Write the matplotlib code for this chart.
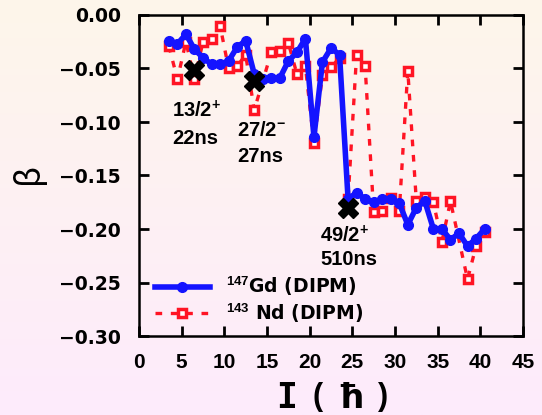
import numpy as np
import matplotlib
matplotlib.use("Agg")
import matplotlib.pyplot as plt

plt.rcParams["font.family"] = ["Liberation Sans", "DejaVu Sans"]
plt.rcParams["font.weight"] = "bold"
plt.rcParams["mathtext.fontset"] = "custom"
plt.rcParams["mathtext.rm"] = "Liberation Sans:bold"
plt.rcParams["mathtext.bf"] = "Liberation Sans:bold"
plt.rcParams["mathtext.default"] = "bf"

# 147Gd (DIPM) deformation along the yrast line
spin_gd = [3.5, 4.5, 5.5, 6.5, 7.5, 8.5, 9.5, 10.5, 11.5, 12.5,
           13.5, 14.5, 15.5, 16.5, 17.5, 18.5, 19.5, 20.5, 21.5, 22.5,
           23.5, 24.5, 25.5, 26.5, 27.5, 28.5, 29.5, 30.5, 31.5, 32.5,
           33.5, 34.5, 35.5, 36.5, 37.5, 38.5, 39.5, 40.5]
beta_gd = [-0.024, -0.027, -0.018, -0.032, -0.040, -0.046, -0.046, -0.043, -0.030, -0.024,
           -0.055, -0.060, -0.059, -0.059, -0.043, -0.035, -0.022, -0.114, -0.044, -0.031,
           -0.037, -0.172, -0.166, -0.172, -0.175, -0.172, -0.172, -0.176, -0.196, -0.180,
           -0.174, -0.200, -0.200, -0.210, -0.204, -0.216, -0.209, -0.200]

# 143Nd (DIPM)
spin_nd = [3.5, 4.5, 5.5, 6.5, 7.5, 8.5, 9.5, 10.5, 11.5, 12.5, 13.5,
           15.5, 16.5, 17.5, 18.5, 19.5, 20.5, 21.5, 22.5, 23.5, 24.5,
           25.5, 26.5, 27.5, 28.5, 29.5, 30.5, 31.5, 32.5, 33.5, 34.5,
           35.5, 36.5, 38.5, 39.5, 40.5]
beta_nd = [-0.029, -0.060, -0.025, -0.060, -0.025, -0.022, -0.010, -0.050, -0.048, -0.037, -0.089,
           -0.035, -0.034, -0.026, -0.055, -0.048, -0.120, -0.056, -0.049, -0.040, -0.172,
           -0.037, -0.048, -0.184, -0.183, -0.171, -0.183, -0.052, -0.174, -0.170, -0.175,
           -0.212, -0.174, -0.247, -0.216, -0.203]

# isomeric states in 147Gd
isomer_spin = [6.5, 13.5, 24.5]
isomer_beta = [-0.051, -0.062, -0.180]
isomer_state = ["13/2$^{+}$", "27/2$^{-}$", "49/2$^{+}$"]
isomer_life = ["22ns", "27ns", "510ns"]

W, H = 542, 415
fig = plt.figure(figsize=(W / 100, H / 100), dpi=100)

# soft cream-to-pink page background
bg = fig.add_axes([0, 0, 1, 1], zorder=-10)
top = np.array([254, 246, 234]) / 255
bot = np.array([253, 235, 252]) / 255
t = np.linspace(0, 1, 256)[:, None]
grad = top[None, :] * (1 - t) + bot[None, :] * t
bg.imshow(grad[:, None, :], aspect="auto", extent=[0, 1, 0, 1])
bg.axis("off")

ax = fig.add_axes([139 / W, 1 - 336 / H, (523 - 139) / W, (336 - 15) / H])
ax.patch.set_alpha(0)

blue = "#1414ff"
red = "#ff1424"

ax.plot(spin_gd, beta_gd, color=blue, lw=4.0, marker="o", ms=7,
        mfc=blue, mec=blue, label=r"$^{147}$Gd (DIPM)", zorder=4)
ax.plot(spin_nd, beta_nd, color=red, lw=2.4, ls=(0, (2.0, 2.6)), marker="s", ms=5.8,
        mfc="white", mec=red, mew=2.5, label=r"$^{143}$ Nd (DIPM)", zorder=3)
ax.plot(isomer_spin, isomer_beta, ls="none", marker="X", ms=14, color="black",
        mec="black", zorder=6)

label_pos = [(3.9, -0.0956, -0.121), (11.5, -0.1134, -0.137), (21.2, -0.2127, -0.234)]
for (x, y1, y2), s, life in zip(label_pos, isomer_state, isomer_life):
    ax.text(x, y1, s, fontsize=14.5, fontweight="bold", ha="left", va="baseline", zorder=7)
    ax.text(x, y2, life, fontsize=14.5, fontweight="bold", ha="left", va="baseline", zorder=7)

ax.set_xlim(0, 45)
ax.set_ylim(-0.30, 0.0)
ax.set_xticks(np.arange(0, 46, 5))
yt = np.round(np.arange(-0.30, 0.001, 0.05), 2)
ax.set_yticks(yt)
ax.set_yticklabels([f"{v:.2f}".replace("-", "\u2212") if v != 0 else "0.00" for v in yt])
ax.tick_params(direction="in", length=7, width=2, top=True, right=True, pad=12)
ax.tick_params(axis="x", labelsize=15)
ax.tick_params(axis="y", labelsize=13.5, pad=13)
for lab in ax.get_xticklabels():
    lab.set_fontweight("bold")
for lab in ax.get_yticklabels():
    lab.set_fontweight("bold")
    lab.set_family("DejaVu Sans")
for sp in ax.spines.values():
    sp.set_linewidth(1.8)

leg = ax.legend(loc="upper left", bbox_to_anchor=(0.042, 0.19), frameon=False,
                prop={"family": "DejaVu Sans", "weight": "bold", "size": 13.5},
                handlelength=2.9, handletextpad=0.9, borderaxespad=0,
                borderpad=0, labelspacing=0.2, numpoints=1)

# axis titles
fig.text(28 / W, 1 - 173 / H, "\u03b2", rotation=90, fontsize=24, fontweight="normal",
         family=["Noto Sans CJK JP", "DejaVu Sans"], ha="center", va="center")
fig.text(287 / W, 1 - 398 / H, "I", fontsize=25, fontweight="bold",
         family=["DejaVu Sans Mono"], ha="center", va="center")
fig.text(318 / W, 1 - 397 / H, "(", fontsize=22, fontweight="bold", ha="center", va="center")
fig.text(351 / W, 1 - 398 / H, "\u0127", fontsize=24, fontweight="bold",
         family=["DejaVu Sans"], ha="center", va="center")
fig.text(383 / W, 1 - 397 / H, ")", fontsize=22, fontweight="bold", ha="center", va="center")

fig.savefig("out.png", dpi=100)
